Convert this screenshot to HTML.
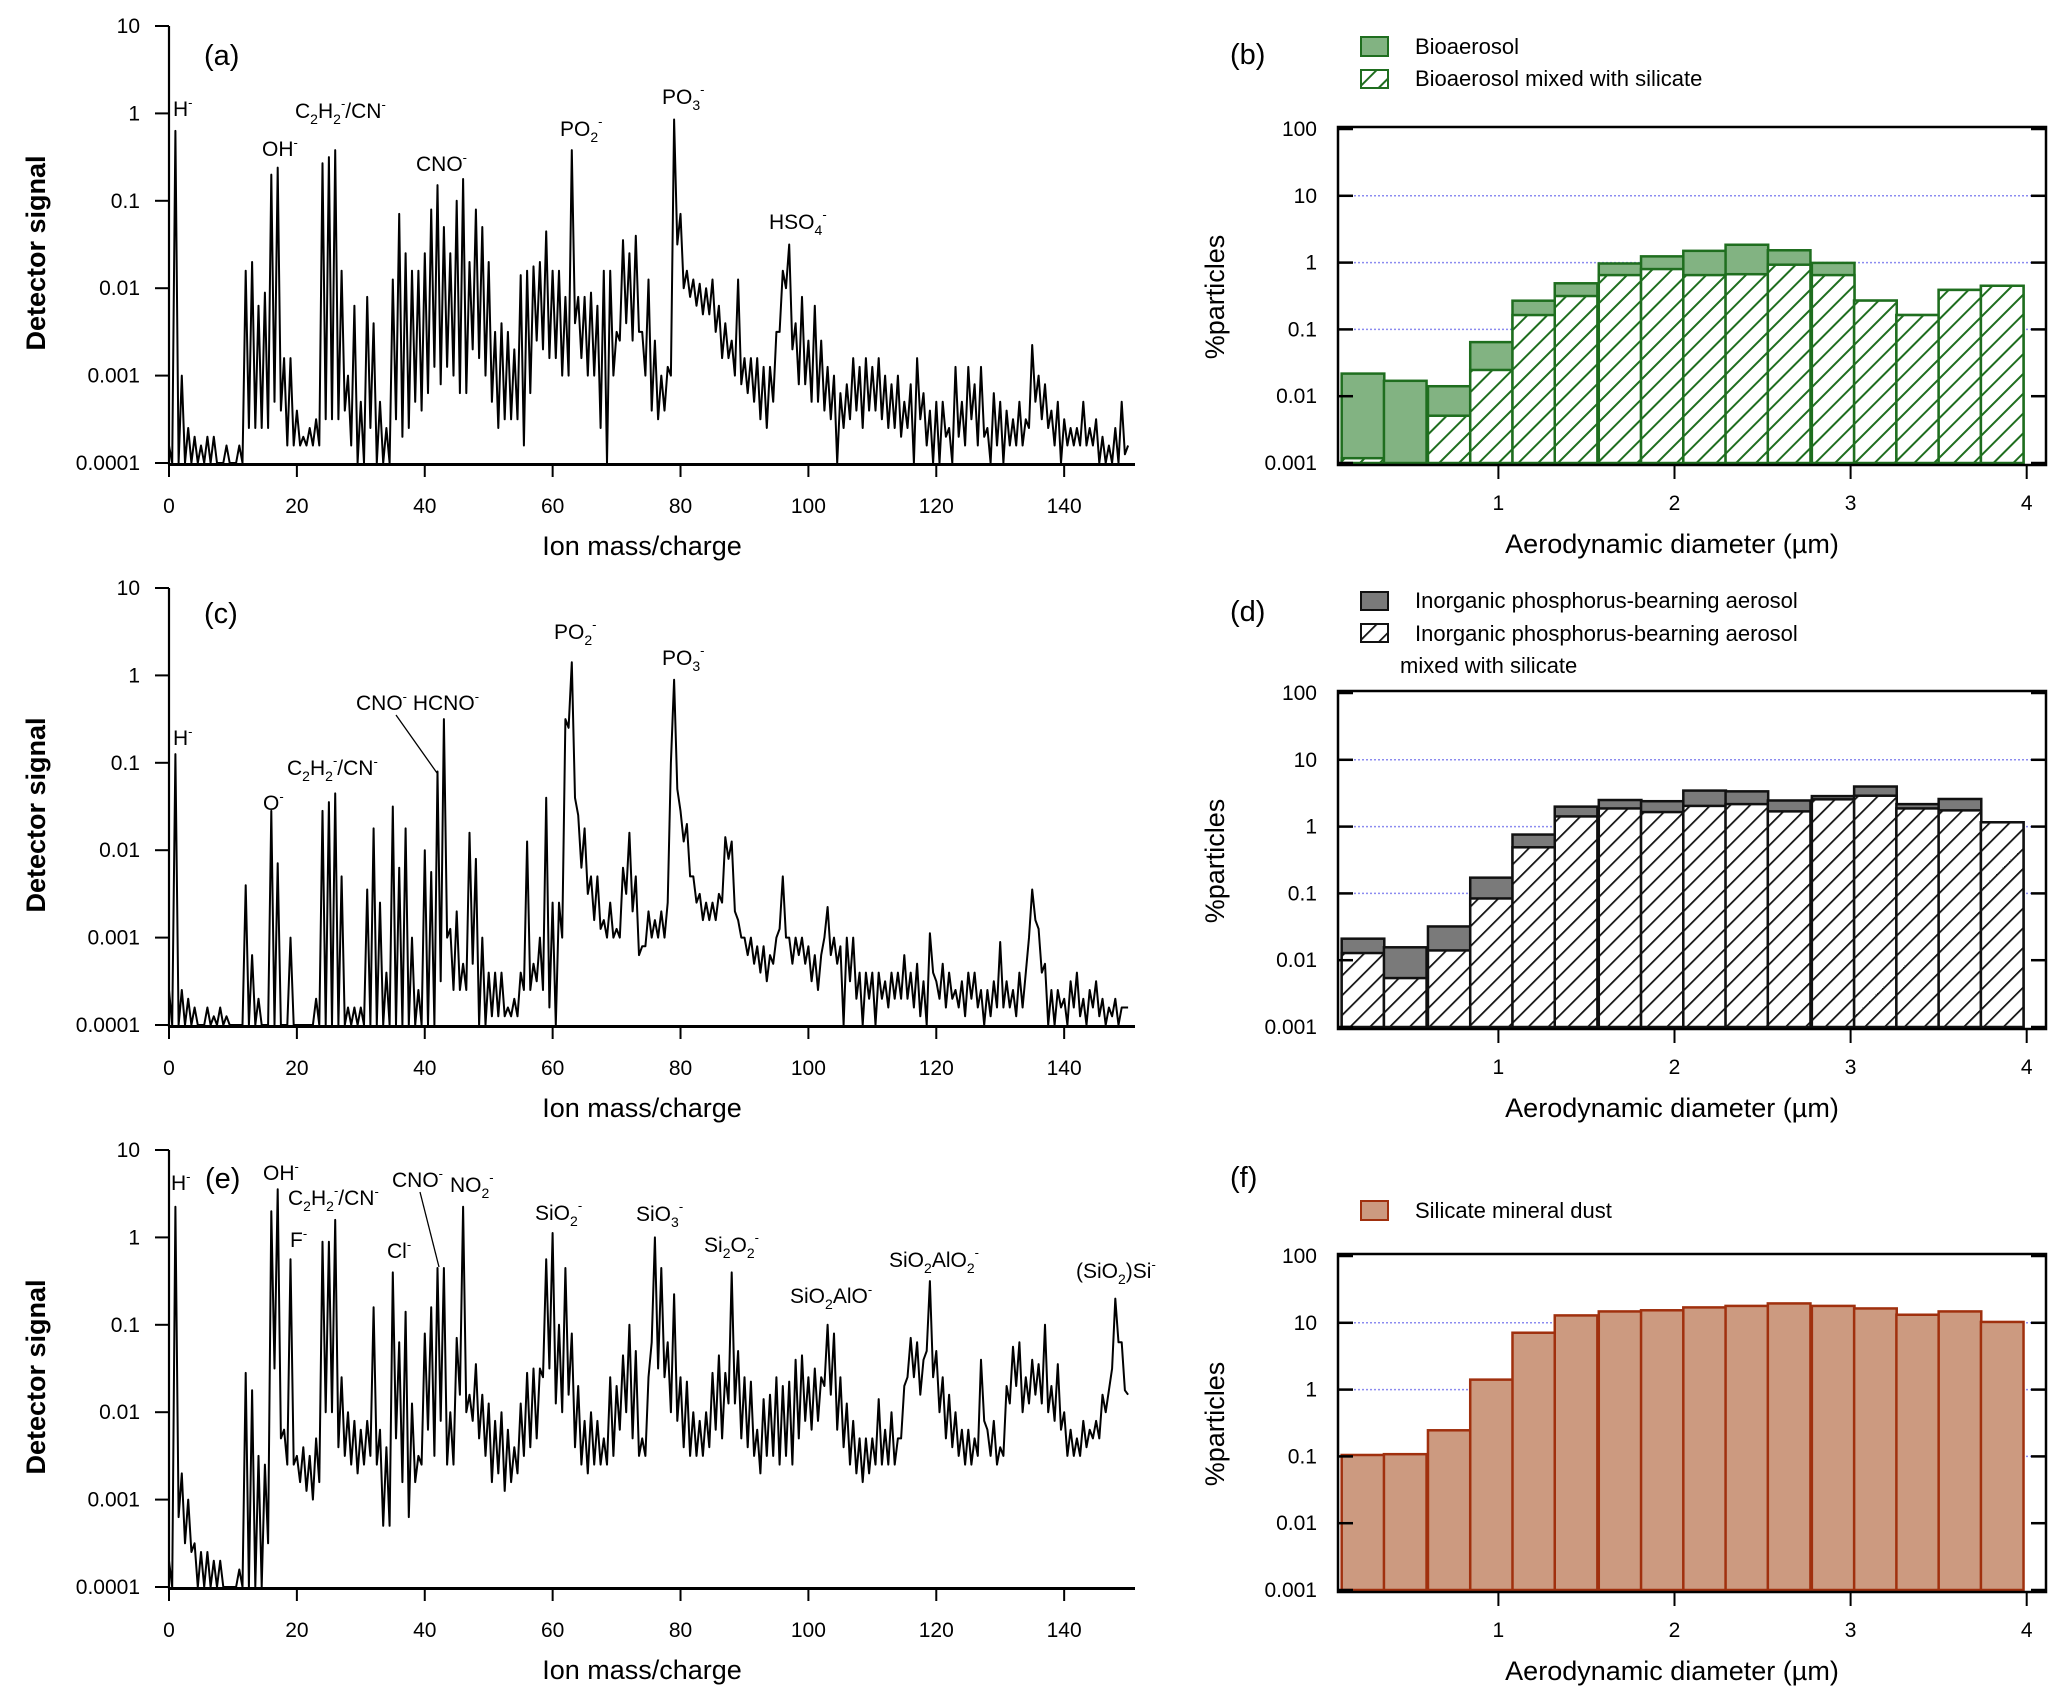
<!DOCTYPE html>
<html><head><meta charset="utf-8">
<style>
html,body{margin:0;padding:0;background:#fff;}
svg{display:block;font-family:"Liberation Sans",Arial,sans-serif;}
.tk{font-size:21px;fill:#000;}
.ann{font-size:21px;fill:#000;}
.ttl{font-size:27px;fill:#000;}
.pl{font-size:29px;fill:#000;}
.lg{font-size:22px;fill:#000;}
</style></head>
<body>
<svg id="fig" width="2067" height="1704" viewBox="0 0 2067 1704">
<defs>
<pattern id="hg" patternUnits="userSpaceOnUse" width="14" height="14" patternTransform="rotate(45)">
<rect width="14" height="14" fill="#fff"/><line x1="0" y1="0" x2="0" y2="14" stroke="#1f6e1f" stroke-width="4"/></pattern>
<pattern id="hk" patternUnits="userSpaceOnUse" width="14" height="14" patternTransform="rotate(45)">
<rect width="14" height="14" fill="#fff"/><line x1="0" y1="0" x2="0" y2="14" stroke="#111" stroke-width="3.5"/></pattern>
</defs>
<g id="specA"></g>
<g id="specC"></g>
<g id="specE"></g>
<g id="barB"></g>
<g id="barD"></g>
<g id="barF"></g>

<g>
<text class="pl" x="204" y="65">(a)</text>
<text class="ann" x="173" y="116">H<tspan dy="-9" font-size="13">-</tspan></text>
<text class="ann" x="262" y="156">OH<tspan dy="-9" font-size="13">-</tspan></text>
<text class="ann" x="295" y="118">C<tspan dy="6" font-size="14">2</tspan><tspan dy="-6">H</tspan><tspan dy="6" font-size="14">2</tspan><tspan dy="-16" font-size="13">-</tspan><tspan dy="10">/CN</tspan><tspan dy="-9" font-size="13">-</tspan></text>
<text class="ann" x="416" y="171">CNO<tspan dy="-9" font-size="13">-</tspan></text>
<text class="ann" x="560" y="136">PO<tspan dy="6" font-size="14">2</tspan><tspan dy="-16" font-size="13">-</tspan></text>
<text class="ann" x="662" y="104">PO<tspan dy="6" font-size="14">3</tspan><tspan dy="-16" font-size="13">-</tspan></text>
<text class="ann" x="769" y="229">HSO<tspan dy="6" font-size="14">4</tspan><tspan dy="-16" font-size="13">-</tspan></text>
</g>
<g>
<text class="pl" x="204" y="623">(c)</text>
<text class="ann" x="173" y="745">H<tspan dy="-9" font-size="13">-</tspan></text>
<text class="ann" x="263" y="810">O<tspan dy="-9" font-size="13">-</tspan></text>
<text class="ann" x="287" y="775">C<tspan dy="6" font-size="14">2</tspan><tspan dy="-6">H</tspan><tspan dy="6" font-size="14">2</tspan><tspan dy="-16" font-size="13">-</tspan><tspan dy="10">/CN</tspan><tspan dy="-9" font-size="13">-</tspan></text>
<text class="ann" x="356" y="710">CNO<tspan dy="-9" font-size="13">-</tspan><tspan dy="9"> HCNO</tspan><tspan dy="-9" font-size="13">-</tspan></text>
<line x1="396" y1="715" x2="437" y2="773" stroke="#000" stroke-width="1.3"/>
<text class="ann" x="554" y="639">PO<tspan dy="6" font-size="14">2</tspan><tspan dy="-16" font-size="13">-</tspan></text>
<text class="ann" x="662" y="665">PO<tspan dy="6" font-size="14">3</tspan><tspan dy="-16" font-size="13">-</tspan></text>
</g>
<g>
<text class="pl" x="205" y="1188">(e)</text>
<text class="ann" x="171" y="1190">H<tspan dy="-9" font-size="13">-</tspan></text>
<text class="ann" x="263" y="1180">OH<tspan dy="-9" font-size="13">-</tspan></text>
<text class="ann" x="288" y="1205">C<tspan dy="6" font-size="14">2</tspan><tspan dy="-6">H</tspan><tspan dy="6" font-size="14">2</tspan><tspan dy="-16" font-size="13">-</tspan><tspan dy="10">/CN</tspan><tspan dy="-9" font-size="13">-</tspan></text>
<text class="ann" x="290" y="1247">F<tspan dy="-9" font-size="13">-</tspan></text>
<text class="ann" x="387" y="1258">Cl<tspan dy="-9" font-size="13">-</tspan></text>
<text class="ann" x="392" y="1187">CNO<tspan dy="-9" font-size="13">-</tspan></text>
<line x1="420" y1="1192" x2="439" y2="1267" stroke="#000" stroke-width="1.3"/>
<text class="ann" x="450" y="1192">NO<tspan dy="6" font-size="14">2</tspan><tspan dy="-16" font-size="13">-</tspan></text>
<text class="ann" x="535" y="1220">SiO<tspan dy="6" font-size="14">2</tspan><tspan dy="-16" font-size="13">-</tspan></text>
<text class="ann" x="636" y="1221">SiO<tspan dy="6" font-size="14">3</tspan><tspan dy="-16" font-size="13">-</tspan></text>
<text class="ann" x="704" y="1252">Si<tspan dy="6" font-size="14">2</tspan><tspan dy="-6">O</tspan><tspan dy="6" font-size="14">2</tspan><tspan dy="-16" font-size="13">-</tspan></text>
<text class="ann" x="790" y="1303">SiO<tspan dy="6" font-size="14">2</tspan><tspan dy="-6">AlO</tspan><tspan dy="-9" font-size="13">-</tspan></text>
<text class="ann" x="889" y="1267">SiO<tspan dy="6" font-size="14">2</tspan><tspan dy="-6">AlO</tspan><tspan dy="6" font-size="14">2</tspan><tspan dy="-16" font-size="13">-</tspan></text>
<text class="ann" x="1076" y="1278">(SiO<tspan dy="6" font-size="14">2</tspan><tspan dy="-6">)Si</tspan><tspan dy="-9" font-size="13">-</tspan></text>
</g>
<g>
<text class="pl" x="1230" y="64">(b)</text>
<rect x="1361" y="37" width="27" height="19" fill="#82b382" stroke="#1f6e1f" stroke-width="2"/>
<text class="lg" x="1415" y="54">Bioaerosol</text>
<rect x="1361" y="70" width="27" height="18" fill="url(#hg)" stroke="#1f6e1f" stroke-width="2"/>
<text class="lg" x="1415" y="86">Bioaerosol mixed with silicate</text>
</g>
<g>
<text class="pl" x="1230" y="621">(d)</text>
<rect x="1361" y="592" width="27" height="18" fill="#7a7a7a" stroke="#111" stroke-width="2"/>
<text class="lg" x="1415" y="608">Inorganic phosphorus-bearning aerosol</text>
<rect x="1361" y="624" width="27" height="18" fill="url(#hk)" stroke="#111" stroke-width="2"/>
<text class="lg" x="1415" y="641">Inorganic phosphorus-bearning aerosol</text>
<text class="lg" x="1400" y="673">mixed with silicate</text>
</g>
<g>
<text class="pl" x="1230" y="1187">(f)</text>
<rect x="1361" y="1201" width="27" height="19" fill="#cc9a80" stroke="#a0300e" stroke-width="2"/>
<text class="lg" x="1415" y="1218">Silicate mineral dust</text>
</g>
</svg>
<script>
const massTicks = [0,20,40,60,80,100,120,140];
const signalTickLabels = ["10","1","0.1","0.01","0.001","0.0001"];
const aPeaks = [-3.8,-0.2,-3.0,-3.6,-3.7,-3.8,-3.7,-3.7,-4,-3.8,-4,-3.8,-1.8,-1.7,-2.2,-2.05,-0.7,-0.62,-2.8,-2.8,-3.4,-3.7,-3.6,-3.5,-0.57,-0.5,-0.42,-1.8,-3.0,-2.2,-3.3,-2.1,-2.4,-3.3,-3.6,-1.9,-1.15,-1.6,-1.8,-1.8,-1.6,-1.1,-0.82,-1.3,-1.6,-1.0,-0.75,-1.7,-1.1,-1.3,-1.7,-2.5,-2.4,-2.5,-2.7,-1.85,-1.8,-1.75,-1.7,-1.35,-1.8,-1.8,-2.1,-0.42,-2.1,-2.1,-2.05,-2.2,-1.8,-1.8,-2.5,-1.45,-1.6,-1.4,-2.5,-1.9,-2.6,-3.0,-2.9,-0.07,-1.15,-1.8,-1.9,-1.95,-2.0,-1.9,-2.2,-2.4,-2.6,-1.9,-2.8,-2.8,-2.8,-2.9,-2.9,-2.5,-1.8,-1.5,-2.4,-2.1,-2.6,-2.2,-2.6,-2.9,-3.0,-3.2,-3.1,-2.8,-2.9,-2.8,-2.9,-2.8,-3.0,-3.1,-3.0,-3.3,-3.1,-2.8,-3.2,-3.4,-3.3,-3.3,-3.6,-2.9,-3.3,-2.9,-3.1,-2.9,-3.6,-3.2,-3.3,-3.4,-3.5,-3.3,-3.5,-2.65,-3.0,-3.1,-3.4,-3.3,-3.5,-3.6,-3.6,-3.3,-3.6,-3.5,-3.7,-3.8,-3.6,-3.3,-3.8];
const aTroughs = [-4,-4,-4,-4,-4,-4,-4,-4,-4,-4,-4,-4,-3.6,-3.6,-3.6,-3.6,-3.3,-3.4,-3.8,-3.8,-3.8,-3.8,-3.8,-3.8,-3.5,-3.5,-3.5,-3.4,-3.8,-4,-4,-3.6,-4,-4,-4,-3.5,-3.7,-3.6,-3.3,-3.4,-3.2,-2.9,-3.1,-2.9,-3.0,-3.2,-3.2,-2.7,-2.8,-3.0,-3.3,-3.6,-3.5,-3.5,-3.5,-3.8,-3.2,-2.6,-2.7,-2.8,-2.8,-3.0,-3.0,-2.4,-2.8,-3.0,-3.0,-3.6,-4,-3.0,-2.6,-2.4,-2.6,-2.5,-3.0,-3.4,-3.5,-3.4,-3.0,-1.5,-2.0,-2.1,-2.2,-2.3,-2.3,-2.5,-2.8,-2.8,-3.0,-3.1,-3.2,-3.3,-3.5,-3.6,-3.3,-2.5,-2.0,-2.7,-3.1,-3.1,-3.3,-3.3,-3.4,-3.5,-4,-3.6,-3.5,-3.4,-3.6,-3.4,-3.4,-3.5,-3.6,-3.6,-3.7,-3.6,-4,-3.5,-3.8,-4,-4,-3.7,-4,-3.7,-3.8,-3.5,-3.8,-3.7,-4,-3.8,-4,-3.8,-3.8,-3.8,-3.6,-3.3,-3.5,-3.6,-3.8,-4,-3.8,-3.8,-3.8,-3.8,-3.8,-4,-4,-4,-4,-3.9];
const cPeaks = [-3.6,-0.9,-3.6,-3.7,-3.8,-4,-3.8,-3.9,-3.8,-3.9,-4,-4,-2.4,-3.2,-3.7,-4,-1.55,-2.15,-4,-3.0,-4,-4,-4,-3.7,-1.55,-1.45,-1.35,-2.3,-3.8,-3.8,-3.8,-2.45,-1.75,-2.6,-3.4,-1.5,-2.2,-1.75,-3.0,-3.6,-2.0,-2.25,-1.1,-0.5,-2.9,-2.7,-3.3,-1.8,-2.1,-3.0,-3.4,-3.4,-3.4,-3.8,-3.7,-3.4,-1.9,-3.3,-3.0,-1.4,-2.6,-2.6,-0.5,0.15,-1.6,-1.75,-2.3,-2.3,-2.8,-2.6,-2.9,-2.2,-1.8,-2.3,-3.1,-2.7,-2.8,-2.7,-2.6,-0.05,-1.55,-1.7,-2.3,-2.5,-2.6,-2.6,-2.5,-1.85,-1.9,-2.8,-3.0,-3.0,-3.1,-3.1,-3.2,-3.0,-2.3,-3.0,-3.0,-3.0,-3.1,-3.2,-3.2,-2.65,-3.0,-3.1,-3.0,-3.0,-3.4,-3.4,-3.4,-3.4,-3.5,-3.4,-3.4,-3.2,-3.4,-3.3,-3.5,-2.95,-3.5,-3.3,-3.4,-3.6,-3.5,-3.4,-3.4,-3.6,-3.6,-3.5,-3.05,-3.5,-3.6,-3.4,-3.4,-2.45,-2.9,-3.3,-3.6,-3.6,-3.7,-3.5,-3.4,-3.7,-3.6,-3.5,-3.7,-3.8,-3.7,-3.8,-3.8];
const cTroughs = [-4,-4,-4,-4,-4,-4,-4,-4,-4,-4,-4,-4,-4,-4,-4,-4,-4,-4,-4,-4,-4,-4,-4,-4,-4,-4,-4,-4,-4,-4,-4,-4,-4,-4,-4,-4,-4,-4,-4,-4,-4,-4,-3.5,-3.0,-3.6,-3.6,-3.6,-3.3,-4,-4,-3.9,-3.9,-3.9,-3.9,-3.9,-3.6,-3.6,-3.5,-3.6,-3.8,-4,-3.0,-0.6,-1.4,-2.2,-2.5,-2.8,-2.9,-3.0,-3.0,-3.0,-2.5,-2.7,-3.2,-3.1,-3.0,-3.0,-3.0,-1.0,-1.3,-1.9,-2.3,-2.6,-2.8,-2.8,-2.8,-2.6,-2.1,-2.7,-3.0,-3.2,-3.3,-3.4,-3.5,-3.3,-2.9,-3.0,-3.3,-3.2,-3.3,-3.5,-3.6,-3.0,-3.2,-3.3,-4,-3.5,-3.7,-4,-3.7,-4,-3.7,-3.8,-3.7,-3.7,-3.7,-3.8,-3.9,-4,-3.4,-3.7,-3.8,-3.7,-3.8,-3.9,-3.7,-3.8,-4,-3.9,-3.8,-3.8,-3.8,-3.9,-3.8,-3.0,-2.8,-3.4,-4,-4,-3.8,-4,-3.8,-3.9,-4,-3.8,-3.9,-4,-3.9,-4,-3.8];
const ePeaks = [-3.7,0.35,-2.7,-3.0,-3.5,-3.6,-3.6,-3.7,-3.7,-4,-4,-3.8,-1.55,-1.75,-2.5,-2.6,0.3,0.55,-2.2,-0.25,-2.5,-2.4,-2.5,-2.3,-0.05,-0.05,0.2,-1.6,-2.0,-2.1,-2.2,-2.1,-0.8,-2.2,-2.4,-0.4,-1.2,-0.85,-1.9,-2.5,-1.1,-0.8,-0.35,-0.35,-2.0,-1.15,0.35,-1.8,-1.45,-1.8,-1.9,-2.1,-2.0,-2.2,-2.4,-1.9,-1.55,-1.5,-1.5,-0.25,0.05,-1.0,-0.35,-1.1,-1.7,-2.1,-2.0,-2.1,-2.3,-1.6,-1.7,-1.35,-1.0,-1.3,-2.3,-1.6,0.0,-0.35,-1.2,-0.65,-1.6,-1.65,-2.0,-2.1,-2.0,-1.55,-1.35,-1.55,-0.4,-1.3,-1.6,-1.65,-2.2,-1.85,-1.8,-1.6,-1.7,-1.65,-1.4,-1.35,-1.6,-1.5,-1.6,-1.0,-1.1,-1.6,-1.9,-2.1,-2.3,-2.3,-2.3,-1.85,-2.2,-2.0,-2.3,-1.7,-1.15,-1.2,-1.4,-0.5,-1.3,-1.6,-1.8,-2.0,-2.2,-2.2,-2.3,-1.4,-2.2,-2.1,-2.4,-1.7,-1.25,-1.2,-1.6,-1.4,-1.45,-1.0,-1.7,-1.45,-2.0,-2.2,-2.3,-2.1,-2.2,-2.1,-1.8,-1.75,-0.7,-1.2,-1.8];
const eTroughs = [-4,-3.2,-3.5,-3.6,-4,-4,-4,-4,-4,-4,-4,-4,-4,-4,-4,-3.5,-1.5,-2.3,-2.6,-2.6,-2.8,-2.9,-3.0,-2.8,-2.0,-2.0,-2.4,-2.5,-2.6,-2.7,-2.6,-2.5,-2.6,-3.3,-3.3,-2.3,-2.8,-3.2,-2.8,-2.6,-2.2,-2.5,-2.1,-2.6,-2.6,-1.8,-2.0,-2.1,-2.3,-2.5,-2.8,-2.7,-2.9,-2.8,-2.7,-2.5,-2.4,-2.3,-1.6,-1.5,-1.9,-2.0,-1.8,-2.4,-2.6,-2.7,-2.6,-2.6,-2.6,-2.5,-2.2,-2.0,-2.3,-2.5,-2.5,-1.2,-1.5,-1.6,-2.0,-2.1,-2.4,-2.5,-2.5,-2.5,-2.4,-2.2,-2.3,-1.9,-1.9,-2.3,-2.4,-2.5,-2.7,-2.5,-2.5,-2.6,-2.5,-2.6,-2.3,-2.1,-2.2,-2.1,-1.7,-1.8,-2.2,-2.4,-2.6,-2.7,-2.8,-2.7,-2.6,-2.6,-2.6,-2.6,-2.3,-1.6,-1.6,-1.8,-1.3,-1.6,-2.0,-2.3,-2.4,-2.5,-2.6,-2.6,-2.5,-2.1,-2.5,-2.6,-2.5,-1.9,-1.7,-2.0,-1.9,-1.8,-1.9,-2.0,-2.1,-2.2,-2.5,-2.5,-2.5,-2.4,-2.3,-2.3,-2.0,-1.5,-1.2,-1.75];

const binLower = [0.11,0.35,0.60,0.84,1.08,1.32,1.57,1.81,2.05,2.29,2.53,2.78,3.02,3.26,3.50,3.74];
const binWidth = 0.242;
const diamTicks = [1,2,3,4];
const pctTickLabels = ["100","10","1","0.1","0.01","0.001"];
const bioTotal = [0.0218,0.017,0.0141,0.0645,0.269,0.49,0.97,1.24,1.5,1.85,1.53,0.99,0.27,0.164,0.39,0.45];
const bioSilicate = [0.00118,0.001,0.0051,0.0247,0.164,0.316,0.65,0.8,0.65,0.67,0.93,0.65,0.27,0.164,0.39,0.45];
const phosTotal = [0.021,0.0156,0.032,0.172,0.76,1.99,2.5,2.4,3.46,3.37,2.46,2.86,3.98,2.17,2.59,1.16];
const phosSilicate = [0.0128,0.0054,0.014,0.084,0.49,1.42,1.87,1.65,2.04,2.17,1.69,2.56,2.9,1.87,1.75,1.16];
const dustTotal = [0.105,0.108,0.246,1.41,7.1,12.9,14.8,15.4,17.0,17.9,19.5,17.9,16.4,13.2,14.8,10.3];

const NS="http://www.w3.org/2000/svg";
function mk(parent, tag, attrs){const e=document.createElementNS(NS,tag);for(const k in attrs)e.setAttribute(k,attrs[k]);parent.appendChild(e);return e;}

function drawSpectrum(gid, peaks, troughs, top){
  const g=document.getElementById(gid);
  const xs=m=>169+m*6.394;
  const ys=l=>top+(1-Math.max(-4,Math.min(1,l)))*87.4;
  const bottom=ys(-4);
  const ya=mk(g,'line',{x1:169,y1:top,x2:169,y2:bottom+2,stroke:'#000','stroke-width':2.2});
  
  
  signalTickLabels.forEach((lab,i)=>{
    const y=ys(1-i);
    const t=mk(g,'line',{x1:155,y1:y,x2:169,y2:y,stroke:'#000','stroke-width':2});
    
    
    const tx=mk(g,'text',{x:140,y:y+7,'text-anchor':'end',class:'tk'});
    tx.textContent=lab;
    
    
  });
  let d='';
  for(let m=0;m<peaks.length;m++){
    d+=(m?'L':'M')+xs(m).toFixed(1)+','+ys(peaks[m]).toFixed(1);
    if(m<troughs.length) d+='L'+xs(m+0.5).toFixed(1)+','+ys(troughs[m]).toFixed(1);
  }
  const p=mk(g,'path',{d:d,fill:'none',stroke:'#000','stroke-width':2,'stroke-linejoin':'round'});
  
  
  const xa=mk(g,'line',{x1:168,y1:bottom+1.5,x2:1135,y2:bottom+1.5,stroke:'#000','stroke-width':3});
  
  
  massTicks.forEach(v=>{
    const x=xs(v);
    const t=mk(g,'line',{x1:x,y1:bottom+3,x2:x,y2:bottom+14,stroke:'#000','stroke-width':2});
    
    
    const tx=mk(g,'text',{x:x,y:bottom+50,'text-anchor':'middle',class:'tk'});
    tx.textContent=v;
    
    
  });
  const xt=mk(g,'text',{x:642,y:bottom+92,'text-anchor':'middle',class:'ttl'});
  xt.textContent='Ion mass/charge';
  
  
  const yt=mk(g,'text',{x:0,y:0,'text-anchor':'middle',class:'ttl','font-weight':'bold',transform:`translate(45,${top+227}) rotate(-90)`});
  yt.textContent='Detector signal';
  
  
}

function drawHist(gid, top, totals, lowers, solidFill, stroke, hatchFill){
  const g=document.getElementById(gid);
  const L=1338,R=2046;
  const xs=v=>1322.3+v*176.1;
  const dec=(66.8);
  const ys=v=>top+(2-Math.log10(Math.max(v,0.001)))*dec;
  const bot=ys(0.001);
  [10,1,0.1].forEach(v=>{
    const gl=mk(g,'line',{x1:L,y1:ys(v),x2:R,y2:ys(v),stroke:'#8c8cf0','stroke-width':1.5,'stroke-dasharray':'2,2'});
    
    
  });
  totals.forEach((v,i)=>{
    const x0=xs(binLower[i]), w=binWidth*176.1;
    const r=mk(g,'rect',{x:x0,y:ys(v),width:w,height:bot-ys(v),fill:solidFill,stroke:stroke,'stroke-width':2.5});
    
    
    if(lowers){
      const lv=lowers[i];
      if(lv>0.001){
        const h=mk(g,'rect',{x:x0,y:ys(lv),width:w,height:bot-ys(lv),fill:hatchFill,stroke:stroke,'stroke-width':2.5});
        
        
      }
    }
  });
  const fr=mk(g,'rect',{x:L,y:top-2,width:R-L,height:bot-top+4,fill:'none',stroke:'#000','stroke-width':2.5});
  
  
  pctTickLabels.forEach((lab,i)=>{
    const y=ys(Math.pow(10,2-i));
    const t1=mk(g,'line',{x1:L,y1:y,x2:L+15,y2:y,stroke:'#000','stroke-width':2.5});
    
    
    const t2=mk(g,'line',{x1:R-15,y1:y,x2:R,y2:y,stroke:'#000','stroke-width':2.5});
    
    
    const tx=mk(g,'text',{x:1317,y:y+7,'text-anchor':'end',class:'tk'});
    tx.textContent=lab;
    
    
  });
  diamTicks.forEach(v=>{
    const x=xs(v);
    const t=mk(g,'line',{x1:x,y1:bot+2,x2:x,y2:bot+16,stroke:'#000','stroke-width':2});
    
    
    const tx=mk(g,'text',{x:x,y:bot+47,'text-anchor':'middle',class:'tk'});
    tx.textContent=v;
    
    
  });
  const xt=mk(g,'text',{x:1672,y:bot+90,'text-anchor':'middle',class:'ttl'});
  xt.textContent='Aerodynamic diameter (\u00b5m)';
  
  
  const yt=mk(g,'text',{x:0,y:0,'text-anchor':'middle',class:'ttl',transform:`translate(1224,${top+168}) rotate(-90)`});
  yt.textContent='%particles';
  
  
}

drawSpectrum('specA', aPeaks, aTroughs, 26);
drawSpectrum('specC', cPeaks, cTroughs, 588);
drawSpectrum('specE', ePeaks, eTroughs, 1150);
drawHist('barB', 129, bioTotal, bioSilicate, '#82b382', '#1f6e1f', 'url(#hg)');
drawHist('barD', 693, phosTotal, phosSilicate, '#7a7a7a', '#111', 'url(#hk)');
drawHist('barF', 1256, dustTotal, null, '#cc9a80', '#a0300e', null);
</script>
</body></html>
